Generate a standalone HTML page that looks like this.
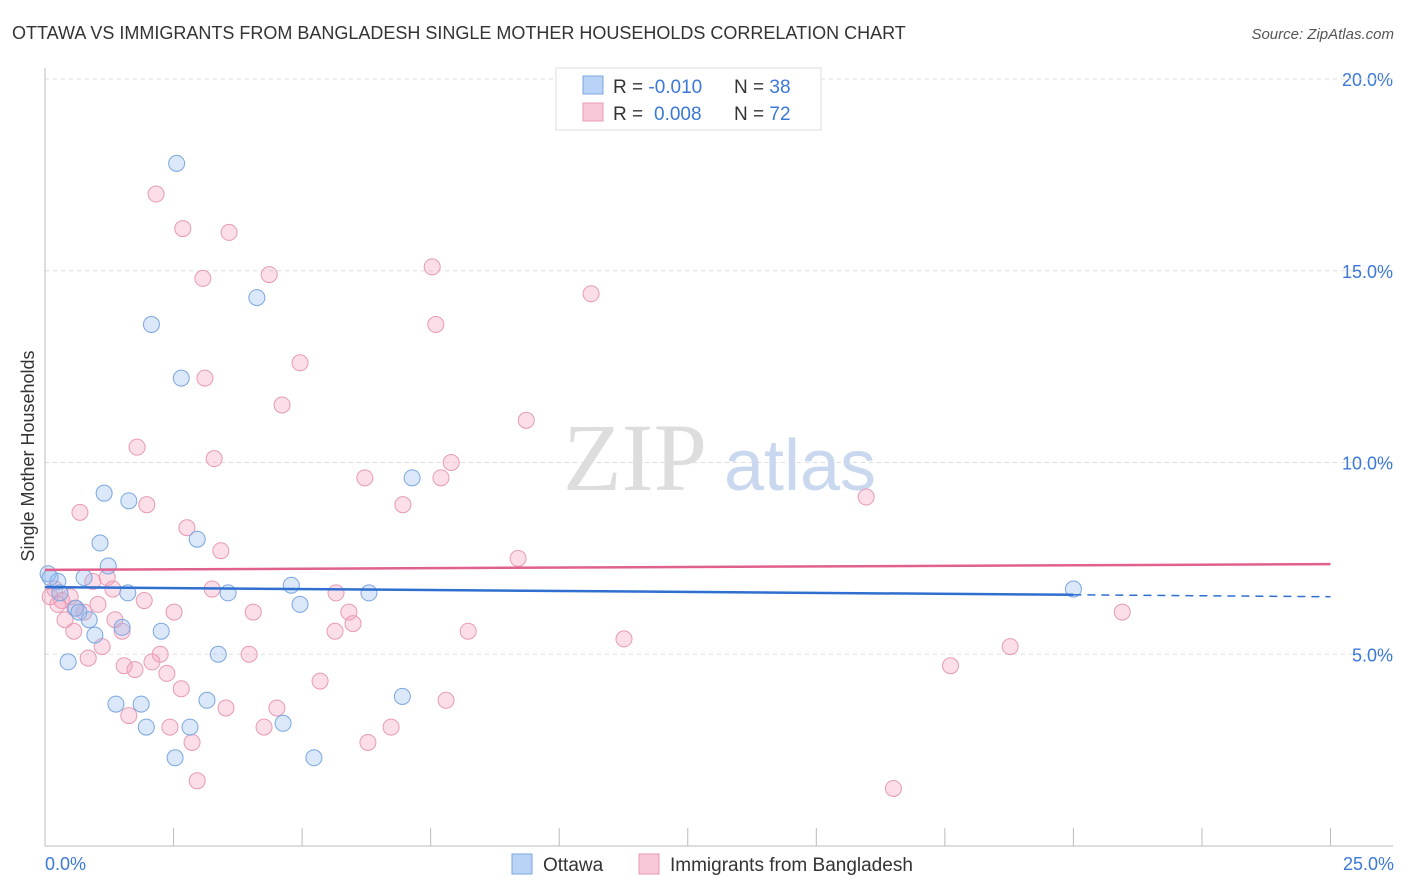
<!DOCTYPE html>
<html><head><meta charset="utf-8"><style>
body{margin:0;background:#fff;font-family:"Liberation Sans",sans-serif;}
#wrap{position:relative;width:1406px;height:892px;overflow:hidden;}
</style></head><body>
<div id="wrap">
<svg id="svg" width="1406" height="892" xmlns="http://www.w3.org/2000/svg" font-family="Liberation Sans, sans-serif">
<text x="12" y="39" font-size="18" fill="#333">OTTAWA VS IMMIGRANTS FROM BANGLADESH SINGLE MOTHER HOUSEHOLDS CORRELATION CHART</text>
<text x="1394" y="39" font-size="15" fill="#555" font-style="italic" text-anchor="end">Source: ZipAtlas.com</text>
<g id="grid"></g>
<text x="635" y="490" font-size="96" fill="#ddd" font-family="Liberation Serif, serif" text-anchor="middle">ZIP</text>
<text x="800" y="490" font-size="72" fill="#c9d8ee" text-anchor="middle">atlas</text>
<g id="marks"></g>
<text transform="translate(34,456) rotate(-90)" font-size="18" fill="#333" text-anchor="middle">Single Mother Households</text>
<text x="45" y="870" font-size="18" fill="#3b78d8">0.0%</text>
<text x="1394" y="870" font-size="18" fill="#3b78d8" text-anchor="end">25.0%</text>
<g>
<rect x="556" y="68" width="265" height="62" fill="#fff" stroke="#ddd"/>
<rect x="583" y="76" width="20" height="18" fill="#b8d3f5" stroke="#7aa6e0"/>
<rect x="583" y="103" width="20" height="18" fill="#f8c8d8" stroke="#e89ab4"/>
<text x="613" y="93" font-size="19" fill="#333">R = <tspan fill="#3b78d8">-0.010</tspan><tspan x="734">N = </tspan><tspan fill="#3b78d8">38</tspan></text>
<text x="613" y="120" font-size="19" fill="#333">R = <tspan fill="#3b78d8" x="654">0.008</tspan><tspan x="734">N = </tspan><tspan fill="#3b78d8">72</tspan></text>
</g>
<g>
<rect x="512" y="854" width="20" height="20" fill="#b8d3f5" stroke="#7aa6e0"/>
<text x="543" y="871" font-size="19" fill="#333">Ottawa</text>
<rect x="639" y="854" width="20" height="20" fill="#f8c8d8" stroke="#e89ab4"/>
<text x="670" y="871" font-size="19" fill="#333">Immigrants from Bangladesh</text>
</g>
</svg></div>
<script>
const yTicks=[5,10,15,20];
const yTickLabels=["5.0%","10.0%","15.0%","20.0%"];
const xTicks=[0,2.5,5,7.5,10,12.5,15,17.5,20,22.5,25];
const ottawaX=[2.56,2.07,2.65,4.12,1.15,1.63,7.14,2.96,1.07,1.23,0.76,0.06,0.25,0.29,1.61,3.56,4.79,6.30,4.96,0.60,0.66,0.86,1.50,0.97,2.26,0.45,3.37,1.38,1.87,3.15,6.95,1.97,2.82,4.63,2.53,5.23,20.0,0.10];
const ottawaY=[17.8,13.6,12.2,14.3,9.2,9.0,9.6,8.0,7.9,7.3,7.0,7.1,6.9,6.6,6.6,6.6,6.8,6.6,6.3,6.2,6.1,5.9,5.7,5.5,5.6,4.8,5.0,3.7,3.7,3.8,3.9,3.1,3.1,3.2,2.3,2.3,6.7,7.0];
const bangX=[2.16,2.68,3.58,3.07,4.36,7.53,10.62,7.60,4.96,3.11,4.61,9.36,1.79,3.29,7.90,6.22,7.70,15.97,1.98,0.68,6.96,2.76,3.42,9.20,1.21,0.93,1.32,3.25,5.66,0.19,0.10,0.33,0.49,0.25,1.93,1.03,0.58,0.76,2.51,4.05,5.91,1.36,0.39,5.99,5.64,8.23,1.50,0.56,11.26,1.11,2.24,3.97,0.84,1.54,2.08,1.75,17.61,18.77,20.95,2.37,5.35,2.65,7.80,3.52,4.51,1.63,2.43,4.26,6.73,2.86,6.28,2.96,16.50];
const bangY=[17.0,16.1,16.0,14.8,14.9,15.1,14.4,13.6,12.6,12.2,11.5,11.1,10.4,10.1,10.0,9.6,9.6,9.1,8.9,8.7,8.9,8.3,7.7,7.5,7.0,6.9,6.7,6.7,6.6,6.7,6.5,6.4,6.5,6.3,6.4,6.3,6.2,6.1,6.1,6.1,6.1,5.9,5.9,5.8,5.6,5.6,5.6,5.6,5.4,5.2,5.0,5.0,4.9,4.7,4.8,4.6,4.7,5.2,6.1,4.5,4.3,4.1,3.8,3.6,3.6,3.4,3.1,3.1,3.1,2.7,2.7,1.7,1.5];
const ottawaTrend=[6.75,6.55,6.50];
const bangTrend=[7.2,7.35];
const X=v=>45+v*51.42, Y=v=>846-v*38.35;
const NS="http://www.w3.org/2000/svg";
const grid=document.getElementById('grid'), marks=document.getElementById('marks');
function mk(tag,attrs,parent){const e=document.createElementNS(NS,tag);for(const k in attrs)e.setAttribute(k,attrs[k]);parent.appendChild(e);return e;}
yTicks.forEach((t,i)=>{
 const l=mk('line',{x1:45,x2:1393,y1:Y(t),y2:Y(t),stroke:'#ddd','stroke-dasharray':'4,4'},grid);
 
 
 const tx=mk('text',{x:1393,y:Y(t)+7,'font-size':18,fill:'#3b78d8','text-anchor':'end'},grid);
 tx.textContent=yTickLabels[i];
 
 
});
const tl=mk('line',{x1:45,x2:1393,y1:79,y2:79,stroke:'#ddd','stroke-dasharray':'4,4'},grid);


const xa=mk('line',{x1:45,x2:1393,y1:846,y2:846,stroke:'#bbb'},grid);


const ya=mk('line',{x1:45,x2:45,y1:68,y2:846,stroke:'#bbb'},grid);


xTicks.forEach(t=>{
 const l=mk('line',{x1:X(t),x2:X(t),y1:828,y2:846,stroke:'#bbb'},grid);
 
 
});
bangX.forEach((x,i)=>{
 const c=mk('circle',{cx:X(x),cy:Y(bangY[i]),r:8,fill:'rgba(244,160,188,0.35)',stroke:'#e89ab4','stroke-width':1},marks);
 
 
});
ottawaX.forEach((x,i)=>{
 const c=mk('circle',{cx:X(x),cy:Y(ottawaY[i]),r:8,fill:'rgba(150,190,240,0.35)',stroke:'#7aa6e0','stroke-width':1},marks);
 
 
});
const bt=mk('line',{x1:X(0),y1:Y(bangTrend[0]),x2:X(25),y2:Y(bangTrend[1]),stroke:'#e0608e','stroke-width':2.5},marks);


const ot=mk('line',{x1:X(0),y1:Y(ottawaTrend[0]),x2:X(20),y2:Y(ottawaTrend[1]),stroke:'#2f6fd0','stroke-width':2.5},marks);


const od=mk('line',{x1:X(20),y1:Y(ottawaTrend[1]),x2:X(25),y2:Y(ottawaTrend[2]),stroke:'#2f6fd0','stroke-width':1.5,'stroke-dasharray':'8,6'},marks);


</script>
</body></html>
